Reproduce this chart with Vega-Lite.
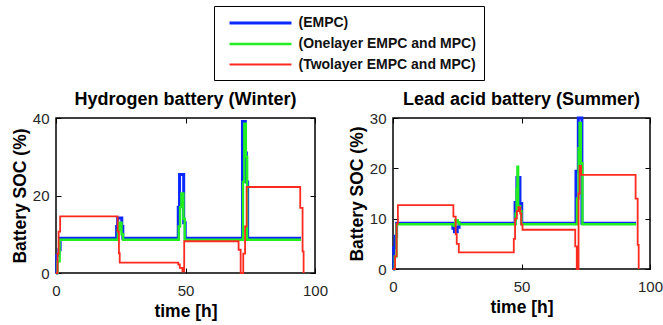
{
  "$schema": "https://vega.github.io/schema/vega-lite/v6.json",
  "padding": {"left": 10, "top": 5, "right": 10, "bottom": 5},
  "background": "white",
  "datasets": {
    "d": [
      {"p":"H","s":"(EMPC)","t":0,"v":0},{"p":"H","s":"(EMPC)","t":0.3,"v":4.5},{"p":"H","s":"(EMPC)","t":1.1,"v":6},{"p":"H","s":"(EMPC)","t":1.6,"v":9},
      {"p":"H","s":"(EMPC)","t":23.4,"v":12},{"p":"H","s":"(EMPC)","t":23.8,"v":14.2},{"p":"H","s":"(EMPC)","t":25.4,"v":12},{"p":"H","s":"(EMPC)","t":25.8,"v":9},
      {"p":"H","s":"(EMPC)","t":47.2,"v":17},{"p":"H","s":"(EMPC)","t":47.7,"v":25.4},{"p":"H","s":"(EMPC)","t":49.3,"v":13},{"p":"H","s":"(EMPC)","t":49.9,"v":9},
      {"p":"H","s":"(EMPC)","t":72.0,"v":39.1},{"p":"H","s":"(EMPC)","t":73.1,"v":31},{"p":"H","s":"(EMPC)","t":73.5,"v":23.5},{"p":"H","s":"(EMPC)","t":74.0,"v":9},{"p":"H","s":"(EMPC)","t":94.6,"v":9},

      {"p":"H","s":"(Onelayer EMPC and MPC)","t":0,"v":0},{"p":"H","s":"(Onelayer EMPC and MPC)","t":0.6,"v":3},{"p":"H","s":"(Onelayer EMPC and MPC)","t":1.4,"v":8.6},
      {"p":"H","s":"(Onelayer EMPC and MPC)","t":23.9,"v":11},{"p":"H","s":"(Onelayer EMPC and MPC)","t":24.4,"v":13},{"p":"H","s":"(Onelayer EMPC and MPC)","t":25.3,"v":10},{"p":"H","s":"(Onelayer EMPC and MPC)","t":25.9,"v":8.6},
      {"p":"H","s":"(Onelayer EMPC and MPC)","t":47.4,"v":12},{"p":"H","s":"(Onelayer EMPC and MPC)","t":47.9,"v":17},{"p":"H","s":"(Onelayer EMPC and MPC)","t":48.4,"v":20.5},{"p":"H","s":"(Onelayer EMPC and MPC)","t":49.2,"v":14},{"p":"H","s":"(Onelayer EMPC and MPC)","t":49.7,"v":8.6},
      {"p":"H","s":"(Onelayer EMPC and MPC)","t":72.2,"v":23.5},{"p":"H","s":"(Onelayer EMPC and MPC)","t":72.7,"v":38.5},{"p":"H","s":"(Onelayer EMPC and MPC)","t":73.3,"v":30},{"p":"H","s":"(Onelayer EMPC and MPC)","t":73.8,"v":8.6},{"p":"H","s":"(Onelayer EMPC and MPC)","t":94.6,"v":8.6},

      {"p":"H","s":"(Twolayer EMPC and MPC)","t":0,"v":0},{"p":"H","s":"(Twolayer EMPC and MPC)","t":0.6,"v":5},{"p":"H","s":"(Twolayer EMPC and MPC)","t":1.0,"v":10.7},{"p":"H","s":"(Twolayer EMPC and MPC)","t":1.6,"v":14.6},
      {"p":"H","s":"(Twolayer EMPC and MPC)","t":23.8,"v":10.7},{"p":"H","s":"(Twolayer EMPC and MPC)","t":24.3,"v":5.1},{"p":"H","s":"(Twolayer EMPC and MPC)","t":24.6,"v":2.7},
      {"p":"H","s":"(Twolayer EMPC and MPC)","t":47.2,"v":2.2},{"p":"H","s":"(Twolayer EMPC and MPC)","t":47.8,"v":1.3},{"p":"H","s":"(Twolayer EMPC and MPC)","t":48.8,"v":0.4},{"p":"H","s":"(Twolayer EMPC and MPC)","t":49.5,"v":8.2},
      {"p":"H","s":"(Twolayer EMPC and MPC)","t":70.5,"v":6},{"p":"H","s":"(Twolayer EMPC and MPC)","t":71.3,"v":0},{"p":"H","s":"(Twolayer EMPC and MPC)","t":72.3,"v":5},{"p":"H","s":"(Twolayer EMPC and MPC)","t":73.0,"v":12},{"p":"H","s":"(Twolayer EMPC and MPC)","t":73.6,"v":22.2},
      {"p":"H","s":"(Twolayer EMPC and MPC)","t":94.3,"v":16.8},{"p":"H","s":"(Twolayer EMPC and MPC)","t":95.2,"v":5.6},{"p":"H","s":"(Twolayer EMPC and MPC)","t":95.6,"v":0},

      {"p":"L","s":"(EMPC)","t":0,"v":0},{"p":"L","s":"(EMPC)","t":0.3,"v":4.2},{"p":"L","s":"(EMPC)","t":0.8,"v":6.5},{"p":"L","s":"(EMPC)","t":1.4,"v":9.1},
      {"p":"L","s":"(EMPC)","t":23.3,"v":8.1},{"p":"L","s":"(EMPC)","t":23.9,"v":7.4},{"p":"L","s":"(EMPC)","t":25.0,"v":8.3},{"p":"L","s":"(EMPC)","t":25.7,"v":9.1},
      {"p":"L","s":"(EMPC)","t":47.5,"v":13.2},{"p":"L","s":"(EMPC)","t":48.2,"v":18.2},{"p":"L","s":"(EMPC)","t":49.4,"v":13},{"p":"L","s":"(EMPC)","t":50.1,"v":9.1},
      {"p":"L","s":"(EMPC)","t":71.2,"v":19.4},{"p":"L","s":"(EMPC)","t":72.1,"v":30},{"p":"L","s":"(EMPC)","t":73.5,"v":9.1},{"p":"L","s":"(EMPC)","t":94.6,"v":9.1},

      {"p":"L","s":"(Onelayer EMPC and MPC)","t":0,"v":0},{"p":"L","s":"(Onelayer EMPC and MPC)","t":0.7,"v":2.5},{"p":"L","s":"(Onelayer EMPC and MPC)","t":1.4,"v":8.9},
      {"p":"L","s":"(Onelayer EMPC and MPC)","t":23.6,"v":8.6},{"p":"L","s":"(Onelayer EMPC and MPC)","t":24.3,"v":9.7},{"p":"L","s":"(Onelayer EMPC and MPC)","t":25.2,"v":9.3},{"p":"L","s":"(Onelayer EMPC and MPC)","t":25.8,"v":8.9},
      {"p":"L","s":"(Onelayer EMPC and MPC)","t":47.7,"v":11},{"p":"L","s":"(Onelayer EMPC and MPC)","t":48.1,"v":16},{"p":"L","s":"(Onelayer EMPC and MPC)","t":48.4,"v":20.3},{"p":"L","s":"(Onelayer EMPC and MPC)","t":48.7,"v":12.5},{"p":"L","s":"(Onelayer EMPC and MPC)","t":49.5,"v":11.5},{"p":"L","s":"(Onelayer EMPC and MPC)","t":50.0,"v":8.9},
      {"p":"L","s":"(Onelayer EMPC and MPC)","t":71.6,"v":14},{"p":"L","s":"(Onelayer EMPC and MPC)","t":72.2,"v":24},{"p":"L","s":"(Onelayer EMPC and MPC)","t":72.6,"v":29},{"p":"L","s":"(Onelayer EMPC and MPC)","t":73.1,"v":21},{"p":"L","s":"(Onelayer EMPC and MPC)","t":73.7,"v":8.9},{"p":"L","s":"(Onelayer EMPC and MPC)","t":94.6,"v":8.9},

      {"p":"L","s":"(Twolayer EMPC and MPC)","t":0,"v":0},{"p":"L","s":"(Twolayer EMPC and MPC)","t":0.8,"v":2.5},{"p":"L","s":"(Twolayer EMPC and MPC)","t":1.4,"v":9},{"p":"L","s":"(Twolayer EMPC and MPC)","t":1.9,"v":12.7},
      {"p":"L","s":"(Twolayer EMPC and MPC)","t":23.5,"v":10.4},{"p":"L","s":"(Twolayer EMPC and MPC)","t":24.4,"v":6.9},{"p":"L","s":"(Twolayer EMPC and MPC)","t":24.8,"v":5},{"p":"L","s":"(Twolayer EMPC and MPC)","t":25.6,"v":3.3},
      {"p":"L","s":"(Twolayer EMPC and MPC)","t":47.0,"v":6},{"p":"L","s":"(Twolayer EMPC and MPC)","t":47.5,"v":10},{"p":"L","s":"(Twolayer EMPC and MPC)","t":48.2,"v":11.5},{"p":"L","s":"(Twolayer EMPC and MPC)","t":48.8,"v":12.3},{"p":"L","s":"(Twolayer EMPC and MPC)","t":49.5,"v":11},{"p":"L","s":"(Twolayer EMPC and MPC)","t":49.9,"v":8.8},{"p":"L","s":"(Twolayer EMPC and MPC)","t":50.4,"v":7.8},
      {"p":"L","s":"(Twolayer EMPC and MPC)","t":70.9,"v":4.5},{"p":"L","s":"(Twolayer EMPC and MPC)","t":71.5,"v":0},{"p":"L","s":"(Twolayer EMPC and MPC)","t":72.2,"v":15},{"p":"L","s":"(Twolayer EMPC and MPC)","t":72.6,"v":20.5},{"p":"L","s":"(Twolayer EMPC and MPC)","t":73.2,"v":18.7},
      {"p":"L","s":"(Twolayer EMPC and MPC)","t":94.4,"v":14},{"p":"L","s":"(Twolayer EMPC and MPC)","t":95.2,"v":4.8},{"p":"L","s":"(Twolayer EMPC and MPC)","t":95.6,"v":0}
    ]
  },
  "data": {"name": "d"},
  "spacing": 18,
  "hconcat": [
    {
      "title": "Hydrogen battery (Winter)",
      "width": 259,
      "height": 155,
      "transform": [{"filter": "datum.p === 'H'"}],
      "layer": [
        {
          "mark": {"type": "line", "interpolate": "step-after"},
          "encoding": {
            "x": {"field": "t", "type": "quantitative", "scale": {"domain": [0, 100]}, "axis": {"values": [0, 50, 100], "title": "time [h]"}},
            "y": {"field": "v", "type": "quantitative", "scale": {"domain": [0, 40]}, "axis": {"values": [0, 20, 40], "title": "Battery SOC (%)"}},
            "color": {"field": "s", "type": "nominal", "scale": {"domain": ["(EMPC)", "(Onelayer EMPC and MPC)", "(Twolayer EMPC and MPC)"], "range": ["#0a28ff", "#22ee22", "#ff2a1f"]}, "legend": {"title": null}},
            "strokeWidth": {"field": "s", "type": "nominal", "scale": {"domain": ["(EMPC)", "(Onelayer EMPC and MPC)", "(Twolayer EMPC and MPC)"], "range": [3, 1.8, 1.5]}, "legend": {"title": null}}
          }
        },
        {
          "mark": {"type": "point", "opacity": 0},
          "encoding": {
            "x": {"field": "t", "type": "quantitative", "scale": {"domain": [0, 100]}, "axis": {"orient": "top", "values": [0, 50, 100], "labels": false, "title": null}},
            "y": {"field": "v", "type": "quantitative", "scale": {"domain": [0, 40]}, "axis": {"orient": "right", "values": [0, 20, 40], "labels": false, "title": null}}
          }
        }
      ],
      "resolve": {"axis": {"x": "independent", "y": "independent"}}
    },
    {
      "title": "Lead acid battery (Summer)",
      "width": 257,
      "height": 151,
      "transform": [{"filter": "datum.p === 'L'"}],
      "layer": [
        {
          "mark": {"type": "line", "interpolate": "step-after"},
          "encoding": {
            "x": {"field": "t", "type": "quantitative", "scale": {"domain": [0, 100]}, "axis": {"values": [0, 50, 100], "title": "time [h]"}},
            "y": {"field": "v", "type": "quantitative", "scale": {"domain": [0, 30]}, "axis": {"values": [0, 10, 20, 30], "title": "Battery SOC (%)"}},
            "color": {"field": "s", "type": "nominal", "scale": {"domain": ["(EMPC)", "(Onelayer EMPC and MPC)", "(Twolayer EMPC and MPC)"], "range": ["#0a28ff", "#22ee22", "#ff2a1f"]}, "legend": {"title": null}},
            "strokeWidth": {"field": "s", "type": "nominal", "scale": {"domain": ["(EMPC)", "(Onelayer EMPC and MPC)", "(Twolayer EMPC and MPC)"], "range": [3, 1.8, 1.5]}, "legend": {"title": null}}
          }
        },
        {
          "mark": {"type": "point", "opacity": 0},
          "encoding": {
            "x": {"field": "t", "type": "quantitative", "scale": {"domain": [0, 100]}, "axis": {"orient": "top", "values": [0, 50, 100], "labels": false, "title": null}},
            "y": {"field": "v", "type": "quantitative", "scale": {"domain": [0, 30]}, "axis": {"orient": "right", "values": [0, 10, 20, 30], "labels": false, "title": null}}
          }
        }
      ],
      "resolve": {"axis": {"x": "independent", "y": "independent"}}
    }
  ],
  "config": {
    "font": "Liberation Sans",
    "view": {"stroke": "black", "strokeWidth": 1.5},
    "axis": {
      "domain": false, "grid": false, "tickSize": -5, "tickColor": "black", "tickWidth": 1, "labelFlush": false,
      "labelFont": "Liberation Sans", "labelFontSize": 15, "labelColor": "#262626", "labelPadding": 12,
      "titleFont": "Liberation Sans", "titleFontSize": 17.5, "titleFontWeight": "bold", "titleColor": "black"
    },
    "axisX": {"titlePadding": 4, "labelPadding": 15},
    "axisY": {"titlePadding": 3},
    "title": {"font": "Liberation Sans", "fontSize": 18, "fontWeight": "bold", "offset": 2, "color": "black"},
    "legend": {
      "orient": "none", "legendX": 158, "legendY": -112,
      "fillColor": "white", "strokeColor": "black", "padding": 8,
      "symbolType": "M-4.13,0H4.13", "symbolSize": 225, "symbolOffset": 29.5,
      "labelOffset": 29, "labelFont": "Liberation Sans", "labelFontSize": 14, "labelFontWeight": "bold", "labelColor": "#111111",
      "rowPadding": 5, "labelLimit": 400
    }
  }
}
